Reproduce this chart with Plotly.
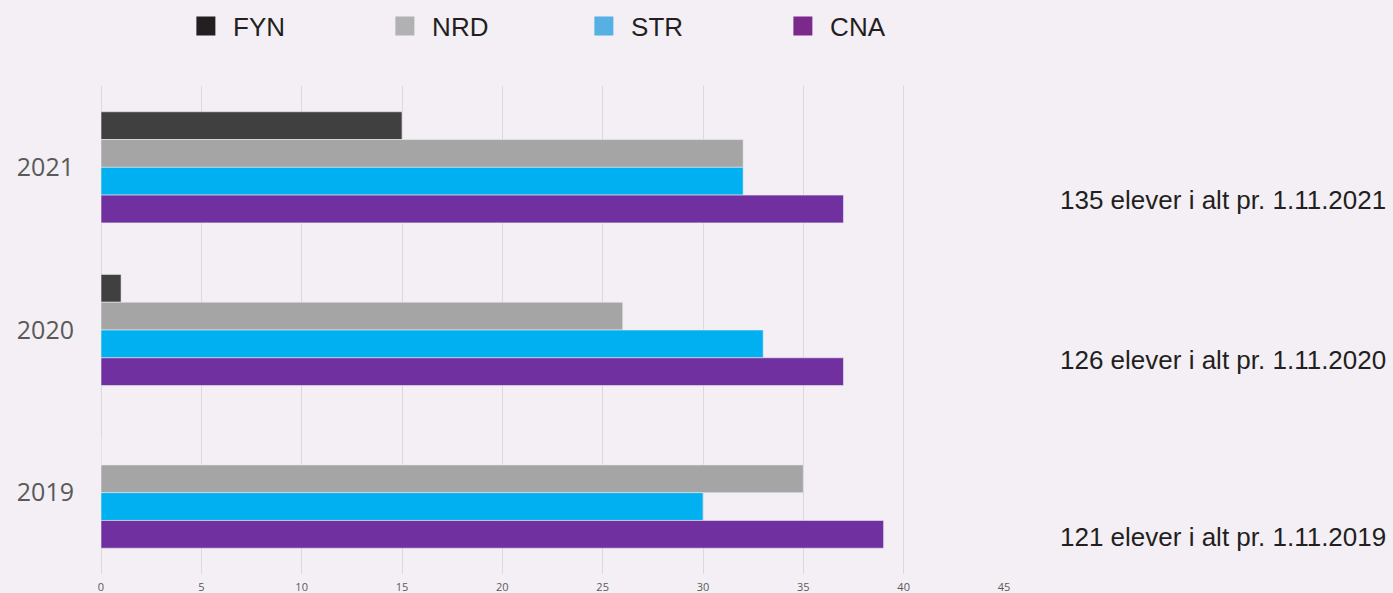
import plotly.graph_objects as go

years = ["2021", "2020", "2019"]
series_names = ["FYN", "NRD", "STR", "CNA"]
fyn = [15, 1, 0]
nrd = [32, 26, 35]
str_ = [32, 33, 30]
cna = [37, 37, 39]
values = [fyn, nrd, str_, cna]
bar_colors = ["#404040", "#A5A5A5", "#00B0F0", "#7030A0"]
legend_colors = ["#231F20", "#B1B1B3", "#56B0E3", "#7B2A8B"]
totals_text = ["135 elever i alt pr. 1.11.2021",
               "126 elever i alt pr. 1.11.2020",
               "121 elever i alt pr. 1.11.2019"]
totals_ypos = [0.766, 0.4385, 0.0758]
x_ticks = [0, 5, 10, 15, 20, 25, 30, 35, 40, 45]

BG = "#F3EFF5"
fig = go.Figure()

for name, vals, col in zip(series_names, values, bar_colors):
    fig.add_trace(go.Bar(
        y=years, x=vals, name=name, orientation="h",
        marker=dict(color=col, line=dict(color="rgba(235,235,240,0.6)", width=1)),
        showlegend=False, hoverinfo="x+y+name",
    ))

for name, col in zip(series_names, legend_colors):
    fig.add_trace(go.Scatter(
        x=[None], y=[None], mode="markers", name=" " + name,
        marker=dict(symbol="square", size=16, color=col, line=dict(color=col, width=3)),
        showlegend=True,
    ))

for txt, yp in zip(totals_text, totals_ypos):
    fig.add_annotation(
        text=txt, xref="paper", yref="paper", x=1.4253, y=yp,
        xanchor="right", yanchor="middle", showarrow=False,
        font=dict(family="Liberation Sans, Arial, sans-serif", size=26, color="#231F20"),
    )

fig.update_layout(
    width=1393, height=593,
    paper_bgcolor=BG, plot_bgcolor=BG,
    margin=dict(l=101, r=389, t=86, b=19),
    barmode="group", bargap=0.317, bargroupgap=0,
    legend=dict(
        orientation="h", x=0.094, y=0.956, xanchor="left", yanchor="middle",
        yref="container",
        entrywidth=154, entrywidthmode="pixels",
        font=dict(family="Liberation Sans, Arial, sans-serif", size=26, color="#231F20"),
        bgcolor="rgba(0,0,0,0)",
    ),
    xaxis=dict(
        range=[0, 45], tickvals=x_ticks, showgrid=True, gridcolor="#DCD8DE", gridwidth=1,
        zeroline=True, zerolinecolor="#DCD8DE", zerolinewidth=1, showline=False,
        tickfont=dict(family="Open Sans, DejaVu Sans, sans-serif", size=11, color="#595959"),
        automargin=False, ticklabelstandoff=5,
    ),
    yaxis=dict(
        type="category", categoryorder="array", categoryarray=years,
        autorange="reversed", showgrid=False, zeroline=False, showline=False,
        tickfont=dict(family="Open Sans, DejaVu Sans, sans-serif", size=25, color="#595959"),
        ticklabelstandoff=26,
    ),
)

fig.write_html("out.html", config={"displayModeBar": False},
               post_script="document.body.style.margin='0';document.body.style.background='" + BG + "';")
